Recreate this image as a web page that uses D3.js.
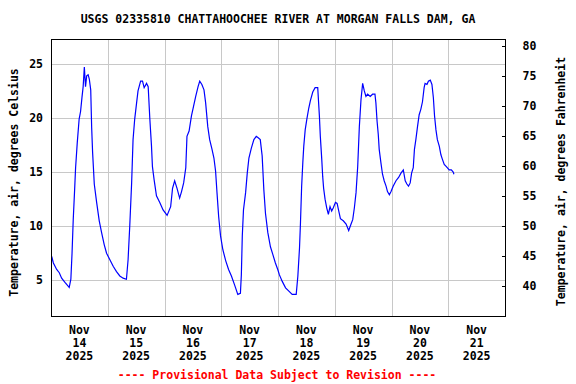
<!DOCTYPE html>
<html>
<head>
<meta charset="utf-8">
<script src="https://cdn.jsdelivr.net/npm/d3@7"></script>
<style>
  body { margin: 0; background: #fff; }
  text { font-family: "DejaVu Sans Mono", monospace; font-weight: bold; }
</style>
</head>
<body>
<div id="chart"></div>
<script>
  //=========================================================================
  // Data (hours after Nov 14 2025 00:00, air temperature in deg C)
  //=========================================================================

  const title = "USGS 02335810 CHATTAHOOCHEE RIVER AT MORGAN FALLS DAM, GA";
  const footer = "---- Provisional Data Subject to Revision ----";
  const leftLabel = "Temperature, air, degrees Celsius";
  const rightLabel = "Temperature, air, degrees Fahrenheit";

  const dayLabels = ["14", "15", "16", "17", "18", "19", "20", "21"];
  const celsiusTicks = [5, 10, 15, 20, 25];
  const fahrenheitTicks = [40, 45, 50, 55, 60, 65, 70, 75, 80];

  const hours = [
    0.3, 1.0, 2.4, 3.5, 4.5, 5.9, 7.7, 8.4, 8.9, 9.4, 10.0, 10.4, 11.1, 11.9,
    12.5, 13.1, 13.6, 14.1, 14.6, 15.1, 15.7, 16.2, 16.8, 17.2, 17.6, 18.3,
    19.3, 20.4, 21.4, 22.5, 23.5, 24.9, 26.3, 27.7, 29.1, 30.5, 31.9, 32.6,
    33.3, 34.1, 34.7, 35.4, 36.2, 36.8, 37.9, 38.7, 39.4, 40.4, 41.1, 41.8,
    42.5, 42.9, 43.6, 44.6, 46.0, 47.4, 49.1, 50.6, 51.4, 52.3, 53.3, 54.4,
    55.2, 56.1, 57.0, 57.5, 58.4, 59.4, 60.3, 61.2, 62.2, 62.9, 63.8, 64.7,
    65.4, 66.3, 67.1, 68.1, 68.9, 69.6, 70.2, 70.9, 71.7, 72.7, 73.9, 75.1,
    76.3, 77.6, 79.0, 80.1, 80.5, 80.9, 81.4, 82.3, 83.0, 83.7, 84.7, 85.8,
    86.8, 87.5, 88.5, 89.3, 90.0, 90.7, 91.7, 92.8, 93.8, 94.9, 95.9, 96.6,
    97.8, 99.2, 100.6, 102.0, 103.7, 104.4, 105.1, 105.5, 106.0, 106.5, 106.9,
    107.5, 108.2, 109.0, 109.7, 110.7, 111.7, 112.8, 113.5, 113.9, 114.5,
    114.9, 115.3, 115.9, 116.6, 117.3, 118.0, 118.7, 119.4, 120.3, 121.0,
    121.7, 122.4, 123.6, 124.8, 125.9, 126.9, 127.6, 128.3, 129.0, 129.7,
    130.4, 131.1, 131.8, 132.5, 133.2, 133.9, 135.0, 136.0, 137.0, 137.4,
    137.9, 138.4, 138.8, 139.5, 140.2, 140.9, 141.7, 142.3, 143.1, 143.8,
    144.7, 145.9, 147.0, 148.0, 149.0, 149.8, 150.5, 151.2, 151.9, 152.5,
    153.2, 153.7, 154.3, 155.0, 155.7, 156.4, 157.1, 157.8, 158.2, 159.0,
    159.6, 160.4, 161.1, 161.7, 162.2, 162.8, 163.4, 164.2, 164.9, 165.5,
    166.3, 167.2, 168.4, 169.3, 170.1, 170.4
  ];

  const tempC = [
    7.2, 6.6, 6.0, 5.7, 5.2, 4.8, 4.35, 5.1, 7.5, 10.6, 13.4, 15.4, 17.7, 19.9,
    20.6, 21.9, 22.9, 24.7, 22.9, 23.9, 24.0, 23.6, 22.6, 19.1, 16.8, 13.9,
    12.2, 10.5, 9.4, 8.3, 7.5, 6.9, 6.3, 5.8, 5.4, 5.2, 5.1, 6.9,
    10.0, 14.0, 18.0, 19.9, 21.4, 22.5, 23.4, 23.4, 22.8, 23.2, 22.9, 19.9,
    17.4, 15.5, 14.3, 12.8, 12.2, 11.5, 11.0, 11.8, 13.5, 14.2, 13.5, 12.6,
    13.2, 14.0, 15.4, 18.3, 18.8, 20.2, 21.1, 22.0, 22.9, 23.4, 23.1, 22.6,
    21.4, 19.2, 18.0, 17.1, 16.3, 15.1, 13.1, 10.9, 9.1, 7.8, 6.8, 6.0,
    5.4, 4.6, 3.7, 3.8, 5.5, 9.1, 11.5, 13.1, 14.9, 16.3, 17.2, 18.0,
    18.3, 18.2, 18.0, 16.5, 13.4, 11.2, 9.4, 8.1, 7.4, 6.6, 6.0, 5.5,
    4.9, 4.3, 4.0, 3.7, 3.7, 5.4, 8.0, 10.3, 13.7, 15.9, 17.4,
    18.9, 19.9, 20.9, 21.6, 22.4, 22.8, 22.8, 20.2, 18.3, 16.2,
    14.6, 13.5, 12.5, 11.7, 11.1, 11.8, 11.4, 11.7, 12.2, 12.1,
    11.4, 10.7, 10.5, 10.2, 9.6, 10.2, 10.6, 11.7, 13.1, 15.5,
    19.2, 21.7, 23.2, 22.5, 22.0, 22.2, 22.0, 22.2, 22.2, 21.4,
    19.7, 18.5, 17.1, 15.9, 14.8, 14.2, 13.7, 13.2, 12.9, 13.2,
    13.7, 14.2, 14.5, 14.9, 15.2, 14.2, 13.9, 13.7, 14.0, 14.9,
    15.4, 17.1, 18.0, 19.2, 20.3, 20.8, 21.5, 22.8, 23.2, 23.1,
    23.4, 23.5, 23.1, 21.9, 20.2, 18.9, 18.0, 17.4, 16.6, 16.2,
    15.7, 15.5, 15.2, 15.2, 15.0, 14.8
  ];

  //=========================================================================
  // Dimensions
  //=========================================================================

  var width = 576,
      height = 384;

  var margin = { top: 39, right: 71, bottom: 68, left: 51 },
      iwidth = width - margin.left - margin.right,
      iheight = height - margin.top - margin.bottom;

  var svg = d3.select("#chart")
    .append("svg")
    .attr("width", width)
    .attr("height", height);

  var g = svg.append("g")
    .attr("transform", `translate(${margin.left},${margin.top})`);

  //=========================================================================
  // Scales
  //=========================================================================

  const start = Date.UTC(2025, 10, 14);
  const dayMs = 24 * 3600 * 1000;

  var x = d3.scaleUtc()
    .domain([new Date(start), new Date(start + 8 * dayMs)])
    .range([0, iwidth]);

  var y = d3.scaleLinear()
    .domain([1.7, 27.3])
    .range([iheight, 0]);

  // Fahrenheit axis shares the same vertical mapping
  var yF = d3.scaleLinear()
    .domain(y.domain().map(c => c * 9 / 5 + 32))
    .range(y.range());

  const data = hours.map((h, i) => ({ t: new Date(start + h * 3600 * 1000), v: tempC[i] }));

  //=========================================================================
  // Grid
  //=========================================================================

  const midnights = d3.range(1, 8).map(d => new Date(start + d * dayMs));

  g.append("g")
    .selectAll("line")
    .data(midnights)
    .join("line")
    .attr("x1", d => Math.round(x(d)) + 0.5)
    .attr("x2", d => Math.round(x(d)) + 0.5)
    .attr("y1", 0)
    .attr("y2", iheight)
    .attr("stroke", "#c8c8c8")
    .attr("shape-rendering", "crispEdges");

  g.append("g")
    .selectAll("line")
    .data(celsiusTicks)
    .join("line")
    .attr("x1", 0)
    .attr("x2", iwidth)
    .attr("y1", d => Math.round(y(d)) + 0.5)
    .attr("y2", d => Math.round(y(d)) + 0.5)
    .attr("stroke", "#c8c8c8")
    .attr("shape-rendering", "crispEdges");

  //=========================================================================
  // Line
  //=========================================================================

  var line = d3.line()
    .x(d => x(d.t))
    .y(d => y(d.v));

  g.append("path")
    .datum(data)
    .attr("fill", "none")
    .attr("stroke", "#0000ff")
    .attr("stroke-width", 1.2)
    .attr("d", line);

  // Frame
  g.append("rect")
    .attr("x", 0.5)
    .attr("y", 0.5)
    .attr("width", iwidth)
    .attr("height", iheight)
    .attr("fill", "none")
    .attr("stroke", "#000")
    .attr("shape-rendering", "crispEdges");

  //=========================================================================
  // Axes
  //=========================================================================

  // left (Celsius)
  var leftAxis = g.append("g")
    .call(d3.axisLeft(y).tickValues(celsiusTicks).tickSize(0).tickPadding(8));
  leftAxis.select(".domain").remove();
  leftAxis.selectAll("text")
    .attr("font-family", "DejaVu Sans Mono")
    .attr("font-weight", "bold")
    .attr("font-size", "11.5px")
    .attr("fill", "#000");

  // right (Fahrenheit), ticks point inward
  var rightAxis = g.append("g")
    .attr("transform", `translate(${iwidth + 0.5},0)`)
    .call(d3.axisRight(yF).tickValues(fahrenheitTicks).tickSize(-4).tickPadding(17));
  rightAxis.select(".domain").remove();
  rightAxis.selectAll("line").attr("shape-rendering", "crispEdges");
  rightAxis.selectAll("text")
    .attr("font-family", "DejaVu Sans Mono")
    .attr("font-weight", "bold")
    .attr("font-size", "11.5px")
    .attr("fill", "#000");

  // bottom: day labels at noon
  var noon = dayLabels.map((d, i) => ({ t: new Date(start + i * dayMs + dayMs / 2), day: d }));

  var xl = g.append("g")
    .selectAll("text")
    .data(noon)
    .join("text")
    .attr("text-anchor", "middle")
    .attr("font-size", "11.5px")
    .attr("transform", d => `translate(${x(d.t)},${iheight})`);

  xl.append("tspan").attr("x", 0).attr("y", 18).text("Nov");
  xl.append("tspan").attr("x", 0).attr("y", 31).text(d => d.day);
  xl.append("tspan").attr("x", 0).attr("y", 44).text("2025");

  //=========================================================================
  // Titles
  //=========================================================================

  svg.append("text")
    .attr("x", margin.left + iwidth / 2)
    .attr("y", 23)
    .attr("text-anchor", "middle")
    .attr("font-size", "11.5px")
    .text(title);

  svg.append("text")
    .attr("transform", `translate(18,${margin.top + iheight / 2 + 5})rotate(-90)`)
    .attr("text-anchor", "middle")
    .attr("font-size", "11.5px")
    .text(leftLabel);

  svg.append("text")
    .attr("transform", `translate(565,${margin.top + iheight / 2 + 4})rotate(-90)`)
    .attr("text-anchor", "middle")
    .attr("font-size", "11.5px")
    .text(rightLabel);

  svg.append("text")
    .attr("x", 277)
    .attr("y", 379)
    .attr("text-anchor", "middle")
    .attr("font-size", "11.5px")
    .attr("fill", "#ff0000")
    .text(footer);
</script>
</body>
</html>
